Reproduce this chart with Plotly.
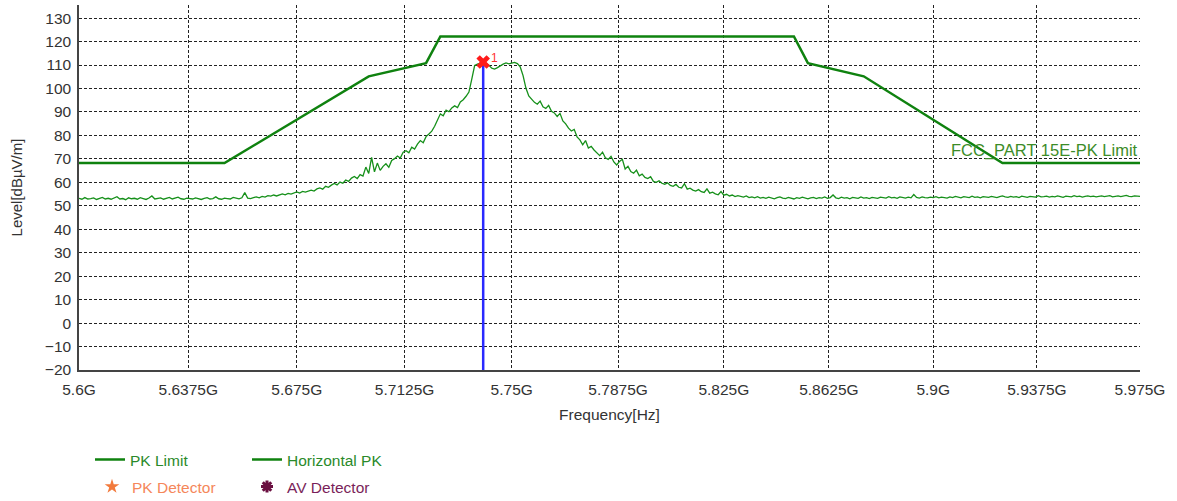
import numpy as np
import plotly.graph_objects as go

# ---- Sweep settings (GHz) ----
start_ghz = 5.6
stop_ghz = 5.975
step_mhz = 1.0

# ---- FCC Part 15E peak limit (corner frequencies in GHz, level in dBuV/m) ----
limit_freq_ghz = [5.6, 5.65, 5.7, 5.72, 5.725, 5.85, 5.855, 5.875, 5.925, 5.975]
limit_level = [68.2, 68.2, 105.2, 110.8, 122.2, 122.2, 110.8, 105.2, 68.2, 68.2]

# ---- Horizontal PK trace, one reading per MHz from 5600 to 5975 MHz ----
horizontal_pk = [
    53.2, 52.8, 53.5, 52.9, 53.1, 53.4, 52.7, 53.0, 53.6, 52.9, 53.2, 52.8, 53.3, 53.9, 52.9, 53.1, 52.6, 53.4, 53.0, 53.2,
    52.8, 53.5, 53.1, 52.7, 53.3, 54.2, 52.9, 53.0, 53.4, 52.8, 53.1, 53.6, 52.9, 53.2, 53.7, 53.0, 52.8, 53.3, 53.1, 52.9,
    53.4, 53.0, 52.7, 53.2, 53.5, 52.9, 53.1, 53.8, 53.0, 52.8, 53.3, 53.1, 52.9, 53.6, 53.2, 53.0, 53.4, 55.6, 53.3, 53.1,
    53.5, 53.8, 53.4, 54.0, 53.7, 54.3, 54.1, 54.6, 54.2, 54.8, 55.1, 54.7, 55.3, 55.0, 55.6, 55.9, 55.4, 56.1, 55.8, 56.4,
    56.7, 56.3, 57.2, 57.6, 57.1, 58.3, 57.9, 58.8, 59.5, 58.9, 60.1, 59.6, 61.0, 60.4, 61.8, 62.5, 61.6, 63.3, 62.7, 66.5,
    63.8, 70.6, 64.5, 68.2, 65.1, 66.8, 67.9, 66.4, 69.3, 70.1, 71.2, 70.4, 72.8, 73.5, 72.6, 75.0, 74.2, 76.3, 77.8, 76.9,
    79.5, 80.6, 81.8, 83.9, 86.5, 89.2, 88.4, 90.8, 90.1, 91.7, 92.6, 91.9, 94.3, 95.2, 96.7, 98.5, 104.0, 109.8, 110.4, 111.0,
    111.3, 110.6, 109.9, 108.7, 108.3, 108.9, 109.8, 110.4, 110.9, 110.5, 110.8, 111.1, 110.6, 109.2, 105.5, 100.2, 96.8, 95.4, 94.1, 93.3,
    94.6, 92.2, 91.5, 92.8, 90.3, 89.6, 88.1, 89.4, 86.2, 84.9, 83.1, 81.9, 82.6, 79.4, 78.1, 76.0, 77.8, 74.6, 75.3, 73.8,
    72.6, 71.4, 72.9, 70.5, 69.8, 71.1, 68.7, 67.4, 68.9, 69.8, 65.7, 66.8, 64.6, 63.9, 65.2, 62.8, 63.5, 62.1, 61.6, 62.4,
    60.4, 60.0, 60.7, 59.6, 59.2, 59.8, 58.7, 58.3, 59.1, 57.9, 57.6, 59.4, 57.1, 57.5, 56.7, 56.3, 56.9, 56.0, 55.7, 57.2,
    55.4, 55.8, 55.1, 54.7, 56.1, 54.5, 54.9, 54.2, 54.6, 53.9, 54.3, 54.0, 53.7, 54.2, 53.5, 53.8, 53.4, 53.9, 53.3, 53.6,
    53.2, 53.7, 53.4, 53.0, 53.5, 53.8, 53.3, 53.1, 53.6, 53.4, 52.9, 53.5, 53.2, 53.7, 53.3, 53.0, 53.4, 53.6, 53.1, 53.5,
    53.3, 53.8, 53.2, 53.5, 54.6, 53.4, 53.1, 53.7, 53.3, 53.5, 53.0, 53.6, 53.4, 53.2, 53.8, 53.3, 53.5, 53.1, 53.6, 53.4,
    53.2, 53.7, 53.5, 53.3, 53.9, 53.4, 53.6, 53.2, 53.8, 53.5, 53.3, 53.7, 53.4, 54.8, 53.6, 53.3, 53.8, 53.5, 53.4, 53.7,
    53.5, 53.9, 53.4, 53.7, 53.6, 53.3, 53.8, 53.5, 54.0, 53.6, 53.4, 53.9, 53.7, 53.5, 54.1, 53.6, 53.8, 53.4, 53.9, 53.7,
    53.6, 54.0, 53.7, 53.5, 53.9, 54.2, 53.8, 53.6, 54.0, 53.7, 53.9, 53.5, 54.1, 53.8, 53.6, 54.0, 53.9, 53.7, 54.3, 53.8,
    53.9, 54.1, 53.7, 54.0, 53.8, 54.2, 53.9, 53.6, 54.1, 54.0, 53.8, 54.3, 53.9, 54.1, 53.7, 54.0, 54.2, 53.9, 54.1, 53.8,
    54.0, 54.2, 53.9, 54.1, 54.3, 53.8, 54.0, 54.2, 53.9, 54.1, 54.4, 54.0, 53.9, 54.2, 54.1, 54.0,
]

# ---- Marker 1 (peak) ----
marker_freq_ghz = [5.74]
marker_level = [111.3]
marker_label = ["1"]

# ---- Axis ticks ----
x_tick_ghz = [5.6, 5.6375, 5.675, 5.7125, 5.75, 5.7875, 5.825, 5.8625, 5.9, 5.9375, 5.975]
x_tick_text = ["5.6G", "5.6375G", "5.675G", "5.7125G", "5.75G", "5.7875G",
               "5.825G", "5.8625G", "5.9G", "5.9375G", "5.975G"]
y_ticks = list(range(-20, 131, 10))
y_floor = -20
y_top = 135.6

limit_name = "FCC_PART 15E-PK Limit"

GHZ = 1e9
sweep_hz = (start_ghz * 1000 + np.arange(len(horizontal_pk)) * step_mhz) * 1e6

FONT = "Liberation Sans, Arial, sans-serif"
LIMIT_GREEN = "#0f820f"
TRACE_GREEN = "#16901a"

fig = go.Figure()

fig.add_trace(go.Scatter(
    x=[f * GHZ for f in limit_freq_ghz], y=limit_level, mode="lines",
    name="<span style='color:#2a8a2a'>PK Limit</span>",
    line=dict(color=LIMIT_GREEN, width=2.5), legend="legend",
))
fig.add_trace(go.Scatter(
    x=sweep_hz, y=horizontal_pk, mode="lines",
    name="Horizontal PK", showlegend=False,
    line=dict(color=TRACE_GREEN, width=1.3),
))
# legend key for the measured trace, drawn with a bold sample line
fig.add_trace(go.Scatter(
    x=[None], y=[None], mode="lines",
    name="<span style='color:#2a8a2a'>Horizontal PK</span>",
    line=dict(color=LIMIT_GREEN, width=2.5), legend="legend",
))

# vertical marker line down to the axis floor
fig.add_trace(go.Scatter(
    x=[marker_freq_ghz[0] * GHZ, marker_freq_ghz[0] * GHZ], y=[y_floor, marker_level[0]],
    mode="lines", line=dict(color="#2a2aff", width=2.5), showlegend=False, hoverinfo="skip",
))
fig.add_trace(go.Scatter(
    x=[f * GHZ for f in marker_freq_ghz], y=marker_level, mode="markers",
    marker=dict(symbol="x", size=12, color="#ff1a1a", line=dict(width=0)),
    showlegend=False,
))
for f, lv, lab in zip(marker_freq_ghz, marker_level, marker_label):
    fig.add_annotation(
        x=np.log10(f * GHZ), y=lv, xref="x", yref="y", text=lab, showarrow=False,
        xshift=11, yshift=4, font=dict(color="#ff3030", size=12, family=FONT),
    )

# detector legend entries
fig.add_trace(go.Scatter(
    x=[None], y=[None], mode="markers",
    name="<span style='color:#f5875a'>PK Detector</span>",
    marker=dict(symbol="star", size=11, color="#f27a3c"), legend="legend2",
))
fig.add_trace(go.Scatter(
    x=[None], y=[None], mode="markers",
    name="<span style='color:#7a1f5a'>AV Detector</span>",
    marker=dict(symbol="asterisk-open", size=10, color="#6a0f40",
                line=dict(color="#6a0f40", width=3)), legend="legend2",
))

fig.add_annotation(
    x=1.0, xref="paper", xanchor="right",
    y=limit_level[-1], yref="y", yanchor="bottom", yshift=1,
    text=limit_name, showarrow=False,
    font=dict(color="#3c8c28", size=16.5, family=FONT),
)

axis_font = dict(family=FONT, size=15.5, color="#333333")

fig.update_xaxes(
    type="log",
    range=[np.log10(start_ghz * GHZ), np.log10(stop_ghz * GHZ)],
    tickmode="array", tickvals=[t * GHZ for t in x_tick_ghz], ticktext=x_tick_text,
    tickfont=axis_font, ticks="", ticklabelstandoff=5,
    showgrid=True, gridcolor="#222222", gridwidth=1, griddash="3px,2px",
    showline=True, linecolor="#444444", linewidth=1.5,
    title=dict(text="Frequency[Hz]", font=axis_font, standoff=12),
    zeroline=False,
)
fig.update_yaxes(
    range=[y_floor, y_top],
    tickmode="array", tickvals=y_ticks,
    tickfont=axis_font, ticks="", ticklabelstandoff=3,
    showgrid=True, gridcolor="#222222", gridwidth=1, griddash="3px,2px",
    showline=True, linecolor="#444444", linewidth=1.5,
    title=dict(text="Level[dBµV/m]", font=dict(family=FONT, size=15, color="#333333"), standoff=19),
    zeroline=False,
)

fig.update_layout(
    width=1177, height=501,
    margin=dict(l=79, r=37, t=5, b=131),
    paper_bgcolor="white", plot_bgcolor="white",
    font=dict(family=FONT),
    legend=dict(
        orientation="h", x=90 / 1177, xref="container", y=0.082, yref="container",
        xanchor="left", yanchor="middle",
        entrywidth=112, entrywidthmode="pixels",
        font=dict(family=FONT, size=15.5), bgcolor="rgba(0,0,0,0)",
        itemwidth=30,
    ),
    legend2=dict(
        orientation="h", x=92 / 1177, xref="container", y=0.028, yref="container",
        xanchor="left", yanchor="middle",
        entrywidth=110, entrywidthmode="pixels",
        font=dict(family=FONT, size=15.5), bgcolor="rgba(0,0,0,0)",
        itemwidth=30,
    ),
)

fig.write_html("out.html")
